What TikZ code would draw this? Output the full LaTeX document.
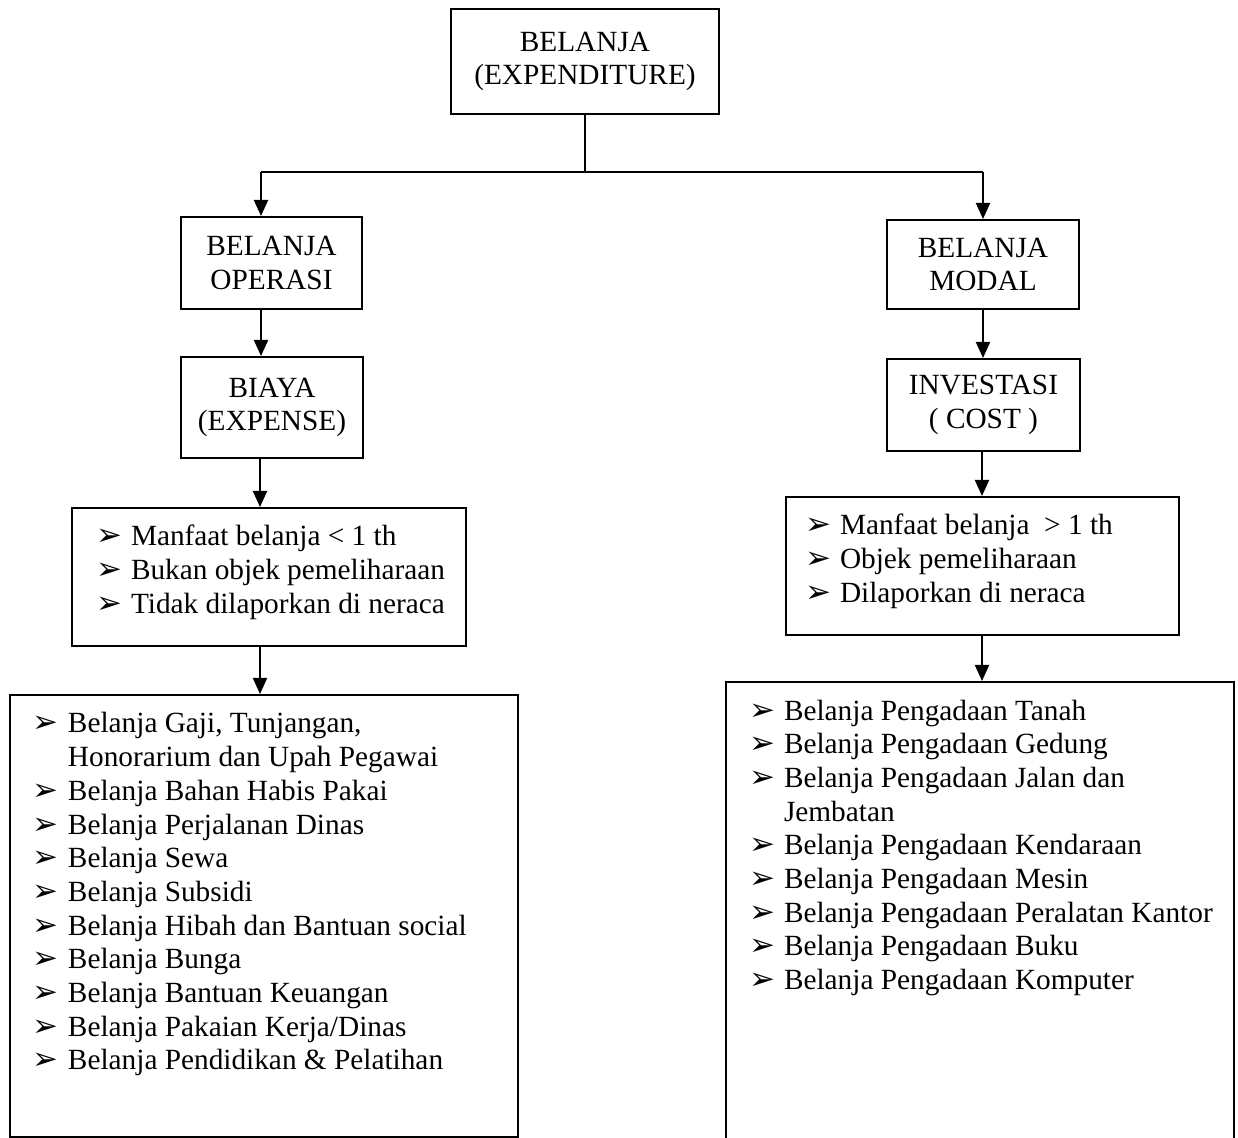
\documentclass[tikz,border=0pt]{standalone}
\usepackage{fontspec}
\setmainfont{Liberation Serif}
\newfontfamily\dejavu{DejaVu Sans}
\usetikzlibrary{arrows.meta}

\newcommand{\bul}{{\dejavu\fontsize{15.5}{15.5}\selectfont ➢}}
\newcommand{\itm}[1]{\par\noindent\makebox[17.5pt][l]{\bul}#1}
\newcommand{\cnt}[1]{\par\noindent\hspace*{17.5pt}#1}
\newcommand{\blist}[4]{\parbox[c][#2][t]{#1}{\leftskip=#3\relax\vspace*{2.15pt}\prevdepth=0pt #4}}

\tikzset{
  headbox/.style={draw, line width=1pt, align=center, inner sep=0pt,
    font=\fontsize{14.65}{16.85}\selectfont},
  listbox/.style={draw, line width=1pt, inner sep=0pt, anchor=north west,
    font=\fontsize{14.65}{16.85}\selectfont},
  arr/.style={line width=1pt, -{Triangle[length=8pt,width=7pt]}}
}

\begin{document}
\begin{tikzpicture}[x=0.5pt, y=-0.5pt]
\useasboundingbox (0,0) rectangle (1238,1138);

\node[headbox, minimum width=134pt, minimum height=52.5pt] (top) at (585,61.5) {BELANJA\\(EXPENDITURE)};

\node[headbox, minimum width=90.5pt, minimum height=46pt] (opr) at (271.5,263) {BELANJA\\OPERASI};
\node[headbox, minimum width=91pt, minimum height=50.5pt] (biaya) at (272,407.5) {BIAYA\\(EXPENSE)};

\node[headbox, minimum width=96pt, minimum height=44.5pt] (modal) at (983,264.5) {BELANJA\\MODAL};
\node[headbox, minimum width=96.5pt, minimum height=46pt] (invest) at (983.5,405) {INVESTASI\\( COST )};

\node[listbox] (opslist) at (71,507) {\blist{197pt}{69pt}{12pt}{%
  \itm{Manfaat belanja < 1 th}
  \itm{Bukan objek pemeliharaan}
  \itm{Tidak dilaporkan di neraca}}};
\node[listbox] (modlist) at (785,496) {\blist{196.5pt}{69pt}{9.5pt}{%
  \itm{Manfaat belanja~ > 1 th}
  \itm{Objek pemeliharaan}
  \itm{Dilaporkan di neraca}}};

\node[listbox] (opsitems) at (9,694) {\blist{254pt}{221pt}{11.5pt}{%
  \itm{Belanja Gaji, Tunjangan,}
  \cnt{Honorarium dan Upah Pegawai}
  \itm{Belanja Bahan Habis Pakai}
  \itm{Belanja Perjalanan Dinas}
  \itm{Belanja Sewa}
  \itm{Belanja Subsidi}
  \itm{Belanja Hibah dan Bantuan social}
  \itm{Belanja Bunga}
  \itm{Belanja Bantuan Keuangan}
  \itm{Belanja Pakaian Kerja/Dinas}
  \itm{Belanja Pendidikan \& Pelatihan}}};
\node[listbox] (moditems) at (725,681) {\blist{254pt}{236pt}{11.5pt}{%
  \itm{Belanja Pengadaan Tanah}
  \itm{Belanja Pengadaan Gedung}
  \itm{Belanja Pengadaan Jalan dan}
  \cnt{Jembatan}
  \itm{Belanja Pengadaan Kendaraan}
  \itm{Belanja Pengadaan Mesin}
  \itm{Belanja Pengadaan Peralatan Kantor}
  \itm{Belanja Pengadaan Buku}
  \itm{Belanja Pengadaan Komputer}}};

\coordinate (hl) at (261,172);
\coordinate (hr) at (983,172);

\draw[line width=1pt] (top.south) -- (top.south |- hl);
\draw[line width=1pt] (hl) -- (hr);
\draw[arr] (hl) -- (hl |- opr.north);
\draw[arr] (hr) -- (hr |- modal.north);

\draw[arr] (hl |- opr.south) -- (hl |- biaya.north);
\draw[arr] (260,0 |- biaya.south) -- (260,0 |- opslist.north);
\draw[arr] (260,0 |- opslist.south) -- (260,0 |- opsitems.north);

\draw[arr] (hr |- modal.south) -- (hr |- invest.north);
\draw[arr] (982,0 |- invest.south) -- (982,0 |- modlist.north);
\draw[arr] (982,0 |- modlist.south) -- (982,0 |- moditems.north);

\end{tikzpicture}
\end{document}
